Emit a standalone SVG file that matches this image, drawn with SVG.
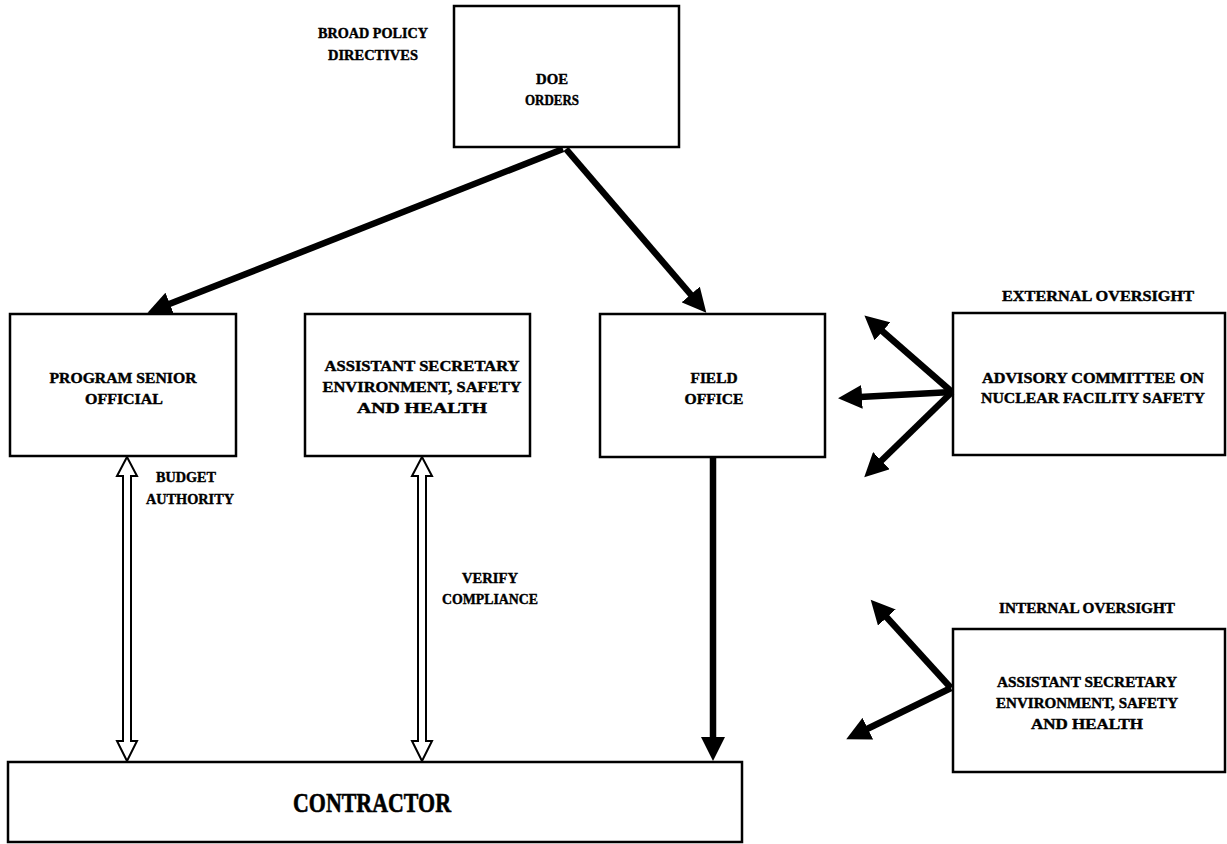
<svg xmlns="http://www.w3.org/2000/svg" width="1227" height="844" viewBox="0 0 1227 844">
<style>
.box{fill:#fff;stroke:#000;stroke-width:2.5}
.t{font-family:"Liberation Serif","Times New Roman",serif;font-weight:bold;font-size:14.5px;fill:#000;text-anchor:middle;stroke:#000;stroke-width:0.4}
.big{font-size:28px;stroke-width:0.6}
.conn{stroke:#000;stroke-width:6.5;fill:none}
.hollow{fill:#fff;stroke:#000;stroke-width:2;stroke-linejoin:miter}
</style>
<defs>
<marker id="ah" markerUnits="userSpaceOnUse" markerWidth="26" markerHeight="24" viewBox="0 0 26 24" refX="2" refY="12" orient="auto">
<path d="M0,0 L24,12 L0,24 z" fill="#000"/>
</marker>
</defs>
<rect width="1227" height="844" fill="#fff"/>

<g id="label-broad">
<text class="t" x="373" y="38" textLength="110" lengthAdjust="spacingAndGlyphs">BROAD POLICY</text>
<text class="t" x="373" y="60" textLength="90" lengthAdjust="spacingAndGlyphs">DIRECTIVES</text>
</g>

<g id="doe-orders">
<rect class="box" x="454" y="6" width="225" height="141"/>
<text class="t" x="552" y="84" textLength="32" lengthAdjust="spacingAndGlyphs">DOE</text>
<text class="t" x="552" y="105" textLength="54" lengthAdjust="spacingAndGlyphs">ORDERS</text>
</g>

<g id="program-senior-official">
<rect class="box" x="10" y="314" width="226" height="142"/>
<text class="t" x="123" y="383" textLength="147" lengthAdjust="spacingAndGlyphs">PROGRAM SENIOR</text>
<text class="t" x="124" y="404" textLength="78" lengthAdjust="spacingAndGlyphs">OFFICIAL</text>
</g>

<g id="assistant-secretary">
<rect class="box" x="305" y="314" width="225" height="142"/>
<text class="t" x="422" y="371" textLength="195" lengthAdjust="spacingAndGlyphs">ASSISTANT SECRETARY</text>
<text class="t" x="422" y="392" textLength="199" lengthAdjust="spacingAndGlyphs">ENVIRONMENT, SAFETY</text>
<text class="t" x="422" y="413" textLength="130" lengthAdjust="spacingAndGlyphs">AND HEALTH</text>
</g>

<g id="field-office">
<rect class="box" x="600" y="314" width="225" height="143"/>
<text class="t" x="714" y="383" textLength="47" lengthAdjust="spacingAndGlyphs">FIELD</text>
<text class="t" x="714" y="404" textLength="59" lengthAdjust="spacingAndGlyphs">OFFICE</text>
</g>

<g id="advisory-committee">
<text class="t" x="1098" y="301" textLength="192" lengthAdjust="spacingAndGlyphs">EXTERNAL OVERSIGHT</text>
<rect class="box" x="953" y="313" width="272" height="142"/>
<text class="t" x="1093" y="383" textLength="222" lengthAdjust="spacingAndGlyphs">ADVISORY COMMITTEE ON</text>
<text class="t" x="1093" y="403" textLength="224" lengthAdjust="spacingAndGlyphs">NUCLEAR FACILITY SAFETY</text>
</g>

<g id="internal-assistant-secretary">
<text class="t" x="1087" y="613" textLength="176" lengthAdjust="spacingAndGlyphs">INTERNAL OVERSIGHT</text>
<rect class="box" x="953" y="629" width="272" height="143"/>
<text class="t" x="1087" y="687" textLength="180" lengthAdjust="spacingAndGlyphs">ASSISTANT SECRETARY</text>
<text class="t" x="1087" y="708" textLength="182" lengthAdjust="spacingAndGlyphs">ENVIRONMENT, SAFETY</text>
<text class="t" x="1087" y="729" textLength="112" lengthAdjust="spacingAndGlyphs">AND HEALTH</text>
</g>

<g id="contractor">
<rect class="box" x="8" y="762" width="734" height="80"/>
<text class="t big" x="372" y="812" textLength="158" lengthAdjust="spacingAndGlyphs">CONTRACTOR</text>
</g>

<g id="label-budget">
<text class="t" x="186" y="482" textLength="60" lengthAdjust="spacingAndGlyphs">BUDGET</text>
<text class="t" x="190" y="504" textLength="88" lengthAdjust="spacingAndGlyphs">AUTHORITY</text>
</g>

<g id="label-verify">
<text class="t" x="490" y="583" textLength="56" lengthAdjust="spacingAndGlyphs">VERIFY</text>
<text class="t" x="490" y="604" textLength="96" lengthAdjust="spacingAndGlyphs">COMPLIANCE</text>
</g>

<g id="connectors">
<line class="conn" x1="563" y1="149" x2="168" y2="304.6" marker-end="url(#ah)"/>
<line class="conn" x1="566" y1="149" x2="692" y2="296" marker-end="url(#ah)"/>
<line class="conn" x1="713" y1="457" x2="713" y2="739" marker-end="url(#ah)"/>
<line class="conn" x1="952" y1="392" x2="881" y2="330" marker-end="url(#ah)"/>
<line class="conn" x1="952" y1="392" x2="860" y2="397" marker-end="url(#ah)"/>
<line class="conn" x1="952" y1="392" x2="880" y2="462" marker-end="url(#ah)"/>
<line class="conn" x1="951" y1="688" x2="885.5" y2="616" marker-end="url(#ah)"/>
<line class="conn" x1="951" y1="688" x2="866" y2="729.5" marker-end="url(#ah)"/>
<path class="hollow" d="M127,457 L137,476 L131,476 L131,741 L137,741 L127,761 L117,741 L123,741 L123,476 L117,476 Z"/>
<path class="hollow" d="M422,457 L432,476 L426,476 L426,741 L432,741 L422,761 L412,741 L418,741 L418,476 L412,476 Z"/>
</g>
</svg>
